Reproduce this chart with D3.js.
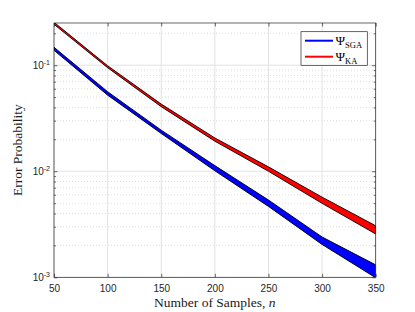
<!DOCTYPE html>
<html><head><meta charset="utf-8">
<script src="https://cdn.jsdelivr.net/npm/d3@7"></script>
<style>body{margin:0;background:#fff}svg{display:block}</style>
</head><body>
<svg id="c" width="415" height="312"></svg>
<script>
const samples = [50, 100, 150, 200, 250, 300, 350];
const sgaUpper = [0.1477, 0.0563, 0.0244, 0.0113, 0.00536, 0.00240, 0.00131];
const sgaLower = [0.1380, 0.0522, 0.0227, 0.0101, 0.00466, 0.00204, 0.00099];
const kaUpper  = [0.254, 0.0989, 0.0430, 0.0206, 0.0110, 0.00570, 0.00306];
const kaLower  = [0.243, 0.0947, 0.0406, 0.0192, 0.01000, 0.00498, 0.00256];
const xTicks = [50, 100, 150, 200, 250, 300, 350];
const yTicks = [1e-3, 1e-2, 1e-1];
const yTickExp = ["-3", "-2", "-1"];
const legendLabels = [["Ψ", "SGA"], ["Ψ", "KA"]];
const colors = ["#0000ff", "#ff0000"];

const svg = d3.select("#c");
const L = 54, T = 23, R = 375.7, B = 277.3;
const x = d3.scaleLinear().domain([50, 350]).range([L, R]);
const y = d3.scaleLog().domain([1e-3, 0.25]).range([B, T]);
const axisCol = "#262626";

// minor grid
const minor = [];
for (let e = -3; e <= -1; e++) for (let k = 2; k <= 9; k++) { const v = k * Math.pow(10, e); if (v <= 0.25) minor.push(v); }
const g = svg.append("g");
g.selectAll(".mg").data(minor).enter().append("line")
  .attr("x1", L).attr("x2", R).attr("y1", d => y(d)).attr("y2", d => y(d))
  .attr("stroke", "#c8c8c8").attr("stroke-width", 0.6).attr("stroke-dasharray", "1,2");
g.selectAll(".yg").data(yTicks).enter().append("line")
  .attr("x1", L).attr("x2", R).attr("y1", d => y(d)).attr("y2", d => y(d))
  .attr("stroke", "#e3e3e3").attr("stroke-width", 1);
g.selectAll(".xg").data(xTicks).enter().append("line")
  .attr("y1", T).attr("y2", B).attr("x1", d => x(d)).attr("x2", d => x(d))
  .attr("stroke", "#e3e3e3").attr("stroke-width", 1);

// bands
svg.append("clipPath").attr("id", "clip").append("rect").attr("x", L).attr("y", T).attr("width", R - L).attr("height", B - T);
const series = [[sgaLower, sgaUpper], [kaLower, kaUpper]];
const area = d3.area().x(d => x(d.n)).y0(d => y(d.lo)).y1(d => y(d.hi));
series.forEach((s, i) => {
  const data = samples.map((n, j) => ({n, lo: s[0][j], hi: s[1][j]}));
  svg.append("path").datum(data).attr("clip-path", "url(#clip)")
    .attr("d", area).attr("fill", colors[i]).attr("stroke", "#000").attr("stroke-width", 0.9)
    .attr("stroke-linejoin", "round");
});

// box
svg.append("rect").attr("x", L).attr("y", T).attr("width", R - L).attr("height", B - T)
  .attr("fill", "none").attr("stroke", axisCol).attr("stroke-width", 0.7);

// axes ticks
const xb = d3.axisBottom(x).tickValues(xTicks).tickSizeInner(-3.5).tickSizeOuter(0).tickPadding(8);
const xa = svg.append("g").attr("transform", `translate(0,${B})`).call(xb);
const xt = d3.axisTop(x).tickValues(xTicks).tickSizeInner(-3.5).tickSizeOuter(0).tickFormat("");
svg.append("g").attr("transform", `translate(0,${T})`).call(xt);
const yl = d3.axisLeft(y).tickValues(yTicks).tickSizeInner(-3.5).tickSizeOuter(0).tickFormat("");
svg.append("g").attr("transform", `translate(${L},0)`).call(yl);
const yr = d3.axisRight(y).tickValues(yTicks).tickSizeInner(-3.5).tickSizeOuter(0).tickFormat("");
svg.append("g").attr("transform", `translate(${R},0)`).call(yr);
const ylm = d3.axisLeft(y).tickValues(minor).tickSizeInner(-2).tickSizeOuter(0).tickFormat("");
svg.append("g").attr("transform", `translate(${L},0)`).call(ylm);
const yrm = d3.axisRight(y).tickValues(minor).tickSizeInner(-2).tickSizeOuter(0).tickFormat("");
svg.append("g").attr("transform", `translate(${R},0)`).call(yrm);
svg.selectAll(".domain").remove();
svg.selectAll(".tick line").attr("stroke", axisCol).attr("stroke-width", 0.7);
xa.selectAll("text").attr("font-family", "Liberation Sans, Arial, sans-serif").attr("font-size", 10).attr("fill", axisCol);

// y tick labels with superscripts
yTicks.forEach((v, i) => {
  const t = svg.append("text").attr("x", L - 4).attr("y", y(v) + 4).attr("text-anchor", "end")
    .attr("font-family", "Liberation Sans, Arial, sans-serif").attr("font-size", 10).attr("fill", axisCol);
  t.append("tspan").text("10");
  t.append("tspan").attr("dy", -4).attr("font-size", 7).text(yTickExp[i]);
});

// axis labels
const xl = svg.append("text").attr("x", (L + R) / 2).attr("y", 307).attr("text-anchor", "middle")
  .attr("font-family", "Liberation Serif, Times New Roman, serif").attr("font-size", 13.5).attr("fill", "#1a1a1a");
xl.append("tspan").text("Number of Samples, ");
xl.append("tspan").attr("font-style", "italic").text("n");
svg.append("text").attr("transform", `translate(22,${(T + B) / 2}) rotate(-90)`).attr("text-anchor", "middle")
  .attr("font-family", "Liberation Serif, Times New Roman, serif").attr("font-size", 13.5).attr("fill", "#1a1a1a")
  .text("Error Probability");

// legend
const lg = svg.append("g");
lg.append("rect").attr("x", 301).attr("y", 31.7).attr("width", 66.3).attr("height", 33.6)
  .attr("fill", "#fff").attr("stroke", axisCol).attr("stroke-width", 0.7);
legendLabels.forEach((lab, i) => {
  const yy = 40.7 + i * 16;
  lg.append("line").attr("x1", 305).attr("x2", 333).attr("y1", yy).attr("y2", yy)
    .attr("stroke", colors[i]).attr("stroke-width", 2);
  const t = lg.append("text").attr("x", 335.5).attr("y", yy + 4.5)
    .attr("font-family", "Liberation Serif, Times New Roman, serif").attr("font-size", 13).attr("fill", "#000");
  t.append("tspan").text(lab[0]);
  t.append("tspan").attr("dy", 3).attr("font-size", 8.5).text(lab[1]);
});
</script>
</body></html>
